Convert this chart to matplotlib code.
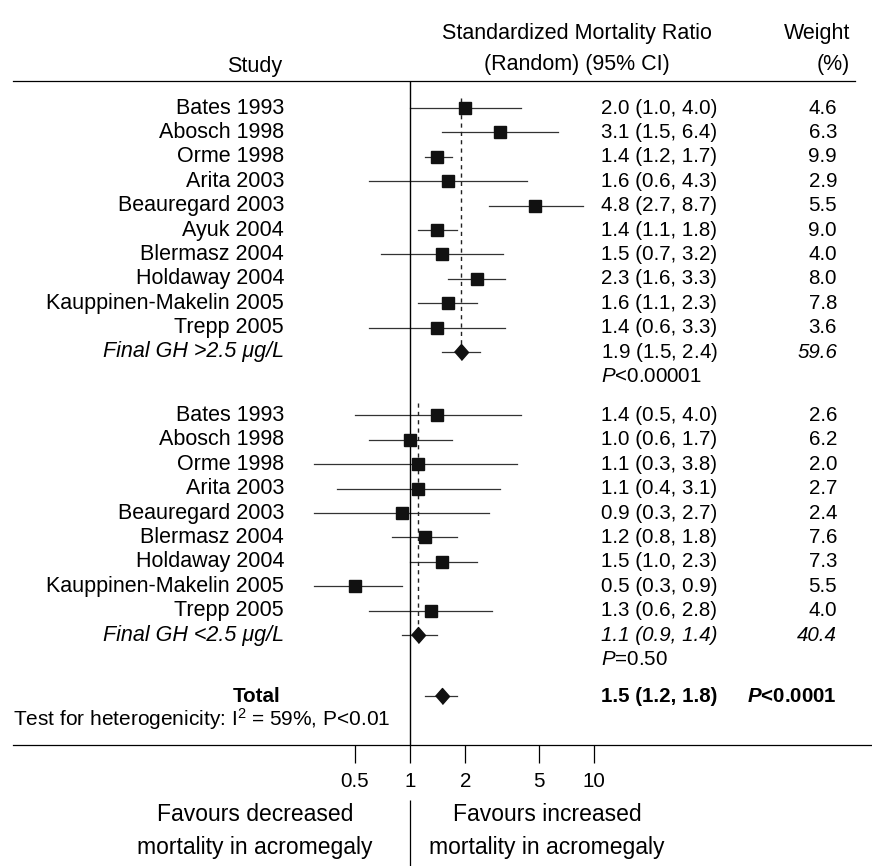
import numpy as np
import matplotlib
matplotlib.use("Agg")
import matplotlib.pyplot as plt
import matplotlib.transforms as mtrans

plt.rcParams['font.family'] = ['Liberation Sans', 'DejaVu Sans']
plt.rcParams['mathtext.fontset'] = 'custom'
plt.rcParams['mathtext.rm'] = 'Liberation Sans'
plt.rcParams['mathtext.it'] = 'Liberation Sans:italic'
plt.rcParams['mathtext.bf'] = 'Liberation Sans:bold'
plt.rcParams['mathtext.bfit'] = 'Liberation Sans:italic:bold'

# data: group with final GH > 2.5 ug/L
g1_names = ['Bates 1993', 'Abosch 1998', 'Orme 1998', 'Arita 2003', 'Beauregard 2003',
            'Ayuk 2004', 'Blermasz 2004', 'Holdaway 2004', 'Kauppinen-Makelin 2005', 'Trepp 2005']
g1_smr = [2.0, 3.1, 1.4, 1.6, 4.8, 1.4, 1.5, 2.3, 1.6, 1.4]
g1_lo = [1.0, 1.5, 1.2, 0.6, 2.7, 1.1, 0.7, 1.6, 1.1, 0.6]
g1_hi = [4.0, 6.4, 1.7, 4.3, 8.7, 1.8, 3.2, 3.3, 2.3, 3.3]
g1_wt = [4.6, 6.3, 9.9, 2.9, 5.5, 9.0, 4.0, 8.0, 7.8, 3.6]
g1_sum = (1.9, 1.5, 2.4, 59.6)

# group with final GH < 2.5 ug/L
g2_names = ['Bates 1993', 'Abosch 1998', 'Orme 1998', 'Arita 2003', 'Beauregard 2003',
            'Blermasz 2004', 'Holdaway 2004', 'Kauppinen-Makelin 2005', 'Trepp 2005']
g2_smr = [1.4, 1.0, 1.1, 1.1, 0.9, 1.2, 1.5, 0.5, 1.3]
g2_lo = [0.5, 0.6, 0.3, 0.4, 0.3, 0.8, 1.0, 0.3, 0.6]
g2_hi = [4.0, 1.7, 3.8, 3.1, 2.7, 1.8, 2.3, 0.9, 2.8]
g2_wt = [2.6, 6.2, 2.0, 2.7, 2.4, 7.6, 7.3, 5.5, 4.0]
g2_sum = (1.1, 0.9, 1.4, 40.4)

total = (1.5, 1.2, 1.8)
ticks = [0.5, 1, 2, 5, 10]
tick_labels = ['0.5', '1', '2', '5', '10']

W, H = 872, 866
fig = plt.figure(figsize=(W / 100, H / 100), dpi=100)
ax = fig.add_axes([0, 0, 1, 1])
ax.set_xscale('log')
ppd = 184.0  # pixels per decade
ax.set_xlim(10 ** (-410 / ppd), 10 ** ((W - 410) / ppd))
y0, dy = 108.0, 24.4
ax.set_ylim((H - y0) / dy, -y0 / dy)
ax.axis('off')

bl = mtrans.blended_transform_factory(ax.transAxes, ax.transData)
def px(x):
    return x / W

fs_name = 15.5
fs = 14.8
name_x = px(284)
val_x = px(601)
wt_x = px(837)
diamond = [(-0.875, 0), (0, 1), (0.875, 0), (0, -1)]

def study_rows(names, smr, lo, hi, wt, rows):
    for i, r in enumerate(rows):
        ax.plot([lo[i], hi[i]], [r, r], color='#333333', lw=0.9, zorder=2)
        ax.plot(smr[i], r, marker='s', ms=8.6, color='#111111', zorder=3)
        ax.text(name_x, r, names[i], transform=bl, ha='right', va='center', fontsize=fs_name)
        ax.text(val_x, r, '%.1f (%.1f, %.1f)' % (smr[i], lo[i], hi[i]), transform=bl,
                ha='left', va='center', fontsize=fs)
        ax.text(wt_x, r, '%.1f' % wt[i], transform=bl, ha='right', va='center', fontsize=fs)

# group 1
rows1 = np.arange(len(g1_names))
study_rows(g1_names, g1_smr, g1_lo, g1_hi, g1_wt, rows1)
r = 10
ax.plot([g1_sum[1], g1_sum[2]], [r, r], color='#333333', lw=0.9)
ax.plot(g1_sum[0], r, marker=diamond, ms=11.5, color='#111111', zorder=3)
ax.vlines(g1_sum[0], -0.4, r, colors='#222222', linestyles=(0, (3, 3)), lw=1.0)
ax.text(name_x, r, 'Final GH >2.5 μg/L', transform=bl, ha='right', va='center',
        fontsize=fs_name, style='italic')
ax.text(val_x, r, r'$\mathit{%.1f}$ (%.1f, %.1f)' % g1_sum[:3], transform=bl,
        ha='left', va='center', fontsize=fs)
ax.text(wt_x, r, '%.1f' % g1_sum[3], transform=bl, ha='right', va='center',
        fontsize=fs, style='italic')
ax.text(val_x, 11, r'$\mathit{P}$<0.00001', transform=bl, ha='left', va='center', fontsize=fs)

# group 2
rows2 = 12.6 + np.arange(len(g2_names))
study_rows(g2_names, g2_smr, g2_lo, g2_hi, g2_wt, rows2)
r = 21.6
ax.plot([g2_sum[1], g2_sum[2]], [r, r], color='#333333', lw=0.9)
ax.plot(g2_sum[0], r, marker=diamond, ms=11.5, color='#111111', zorder=3)
ax.vlines(g2_sum[0], 12.1, r, colors='#222222', linestyles=(0, (3, 3)), lw=1.0)
ax.text(name_x, r, 'Final GH <2.5 μg/L', transform=bl, ha='right', va='center',
        fontsize=fs_name, style='italic')
ax.text(val_x, r, '%.1f (%.1f, %.1f)' % g2_sum[:3], transform=bl,
        ha='left', va='center', fontsize=fs, style='italic')
ax.text(wt_x, r, '%.1f' % g2_sum[3], transform=bl, ha='right', va='center',
        fontsize=fs, style='italic')
ax.text(val_x, 22.6, r'$\mathit{P}$=0.50', transform=bl, ha='left', va='center', fontsize=fs)

# total
r = 24.1
ax.plot([total[1], total[2]], [r, r], color='#333333', lw=0.9)
ax.plot(total[0], r, marker=diamond, ms=11.5, color='#111111', zorder=3)
ax.text(px(280), r, 'Total', transform=bl, ha='right', va='center', fontsize=fs, weight='bold')
ax.text(val_x, r, '%.1f (%.1f, %.1f)' % total, transform=bl, ha='left', va='center',
        fontsize=fs, weight='bold')
ax.text(wt_x, r, r'$\mathbfit{P}$<0.0001', transform=bl, ha='right', va='center',
        fontsize=fs, weight='bold')
ax.text(px(13), 25.05, r'Test for heterogenicity: $\mathregular{I^2}$ = 59%, P<0.01',
        transform=bl, ha='left', va='center', fontsize=15)

# header
ax.text(px(282), -1.72, 'Study', transform=bl, ha='right', va='center', fontsize=15.5)
ax.text(px(577), -3.05, 'Standardized Mortality Ratio', transform=bl, ha='center',
        va='center', fontsize=15.5)
ax.text(px(577), -1.8, '(Random) (95% CI)', transform=bl, ha='center', va='center', fontsize=15.5)
ax.text(px(850), -3.05, 'Weight', transform=bl, ha='right', va='center', fontsize=15.5)
ax.text(px(850), -1.8, '(%)', transform=bl, ha='right', va='center', fontsize=15.5)

# rules and axis
ax.plot([px(13), px(855)], [-1.1, -1.1], transform=bl, color='black', lw=0.9)
ax.plot([px(13), 1.0], [26.1, 26.1], transform=bl, color='black', lw=0.9)
ax.vlines(1, -1.1, 26.1, colors='black', lw=1.0)
ax.vlines(ticks, 26.1, 26.85, colors='black', lw=0.9)
for t, lab in zip(ticks, tick_labels):
    ax.text(t, 27.6, lab, ha='center', va='center', fontsize=fs)
ax.vlines(1, 28.35, 31.1, colors='black', lw=0.9)
fb = 16.5
ax.text(px(255), 28.95, 'Favours decreased', transform=bl, ha='center', va='center', fontsize=fb)
ax.text(px(255), 30.3, 'mortality in acromegaly', transform=bl, ha='center', va='center', fontsize=fb)
ax.text(px(547), 28.95, 'Favours increased', transform=bl, ha='center', va='center', fontsize=fb)
ax.text(px(547), 30.3, 'mortality in acromegaly', transform=bl, ha='center', va='center', fontsize=fb)

fig.savefig('out.png', dpi=100)
